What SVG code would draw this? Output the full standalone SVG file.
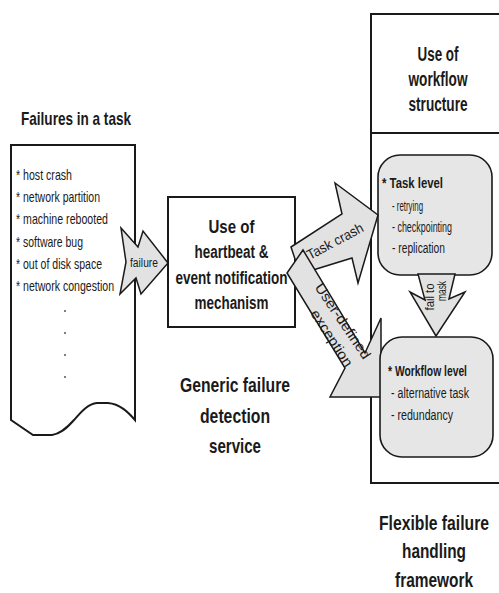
<svg xmlns="http://www.w3.org/2000/svg" width="499" height="593" viewBox="0 0 499 593">
<style>
.t{font-family:"Liberation Sans Narrow","Liberation Sans",Arial,sans-serif;fill:#1a1a1a}
.b{font-weight:bold}
.ln{fill:none;stroke:#1a1a1a;stroke-width:2}
.box{fill:#fff;stroke:#1a1a1a;stroke-width:2}
.gr{fill:#e2e2e2;stroke:#1a1a1a;stroke-width:1.5;stroke-linejoin:miter}
.rb{fill:#e6e6e6;stroke:#1a1a1a;stroke-width:1.6}
</style>
<rect width="499" height="593" fill="#fff"/>
<g id="container">
<path class="ln" d="M510,14 H371 V483 H510 M371,133 H510"/>
<g class="t b" font-size="20" text-anchor="middle">
<text x="438" y="61" textLength="41" lengthAdjust="spacingAndGlyphs">Use of</text>
<text x="438" y="86" textLength="59" lengthAdjust="spacingAndGlyphs">workflow</text>
<text x="438" y="111" textLength="59" lengthAdjust="spacingAndGlyphs">structure</text>
</g>
<g class="t b" font-size="21" text-anchor="middle">
<text x="434" y="530" textLength="110" lengthAdjust="spacingAndGlyphs">Flexible failure</text>
<text x="434" y="558" textLength="64" lengthAdjust="spacingAndGlyphs">handling</text>
<text x="434" y="587" textLength="78" lengthAdjust="spacingAndGlyphs">framework</text>
</g>
</g>
<g id="failures">
<text class="t b" x="21" y="125" font-size="19" textLength="110" lengthAdjust="spacingAndGlyphs">Failures in a task</text>
<path class="box" d="M11,145 H135 V420 C128,412 120,404 108,403 H97 C88,404 82,411 74,420 C66,429 60,434 52,435 H33 L11,420 Z"/>
<g class="t" font-size="15">
<text x="16" y="180" textLength="56" lengthAdjust="spacingAndGlyphs">* host crash</text>
<text x="16" y="202" textLength="84" lengthAdjust="spacingAndGlyphs">* network partition</text>
<text x="16" y="224" textLength="92" lengthAdjust="spacingAndGlyphs">* machine rebooted</text>
<text x="16" y="247" textLength="67" lengthAdjust="spacingAndGlyphs">* software bug</text>
<text x="16" y="269" textLength="86" lengthAdjust="spacingAndGlyphs">* out of disk space</text>
<text x="16" y="291" textLength="98" lengthAdjust="spacingAndGlyphs">* network congestion</text>
</g>
<g fill="#555"><circle cx="65" cy="311" r="1"/><circle cx="65" cy="333" r="1"/><circle cx="65" cy="355" r="1"/><circle cx="65" cy="377" r="1"/></g>
</g>
<g id="detector">
<rect class="box" x="168" y="197" width="127" height="130"/>
<g class="t b" font-size="18" text-anchor="middle">
<text x="231.5" y="233" textLength="46" lengthAdjust="spacingAndGlyphs">Use of</text>
<text x="231.5" y="258" textLength="74" lengthAdjust="spacingAndGlyphs">heartbeat &amp;</text>
<text x="231.5" y="284" textLength="112" lengthAdjust="spacingAndGlyphs">event notification</text>
<text x="231.5" y="309" textLength="74" lengthAdjust="spacingAndGlyphs">mechanism</text>
</g>
<g class="t b" font-size="21" text-anchor="middle">
<text x="235" y="392" textLength="110" lengthAdjust="spacingAndGlyphs">Generic failure</text>
<text x="235" y="423" textLength="70" lengthAdjust="spacingAndGlyphs">detection</text>
<text x="235" y="453" textLength="52" lengthAdjust="spacingAndGlyphs">service</text>
</g>
</g>
<g id="task-level">
<rect class="rb" x="378" y="155" width="114" height="120" rx="22"/>
<text class="t b" x="382" y="188" font-size="15" textLength="61" lengthAdjust="spacingAndGlyphs">* Task level</text>
<g class="t" font-size="14">
<text x="392" y="211" textLength="31" lengthAdjust="spacingAndGlyphs">- retrying</text>
<text x="392" y="232" textLength="60" lengthAdjust="spacingAndGlyphs">- checkpointing</text>
<text x="392" y="253" textLength="53" lengthAdjust="spacingAndGlyphs">- replication</text>
</g>
</g>
<g id="connectors">
<g id="failure-arrow">
<polygon class="gr" points="121,228 138,247 143,231 168,263 141,294 136,278 120,294 126,262"/>
<text class="t" x="144" y="263" font-size="12" text-anchor="middle" dominant-baseline="central" textLength="28" lengthAdjust="spacingAndGlyphs">failure</text>
</g>
<g id="task-crash-arrow">
<polygon class="gr" points="291,247 342,214 335,183 378,215 358,283 352,258 300,274"/>
<text class="t" x="335" y="241" font-size="14" text-anchor="middle" dominant-baseline="central" transform="rotate(-28 335 241)" textLength="62" lengthAdjust="spacingAndGlyphs">Task crash</text>
</g>
<g id="fail-to-mask-arrow">
<polygon class="gr" points="418,274 455,274 449,299 465,292 436,336 410,292 425,300"/>
<text class="t" x="430" y="297" font-size="12" text-anchor="middle" dominant-baseline="central" transform="rotate(-90 430 297)" textLength="27" lengthAdjust="spacingAndGlyphs">fail to</text>
<text class="t" x="442" y="291" font-size="12" text-anchor="middle" dominant-baseline="central" transform="rotate(-90 442 291)" textLength="20" lengthAdjust="spacingAndGlyphs">mask</text>
</g>
<g id="exception-arrow">
<polygon class="gr" points="303,250 365,353 381,318 381,397 330,397 345,368 287,273"/>
<text class="t" x="343" y="321" font-size="14" text-anchor="middle" dominant-baseline="central" transform="rotate(56 343 321)" textLength="88" lengthAdjust="spacingAndGlyphs">User-defined</text>
<text class="t" x="332" y="338" font-size="14" text-anchor="middle" dominant-baseline="central" transform="rotate(57 332 338)" textLength="65" lengthAdjust="spacingAndGlyphs">exception</text>
</g>
</g>
<g id="workflow-level">
<rect class="rb" x="380" y="337" width="113" height="120" rx="22"/>
<text class="t b" x="388" y="376" font-size="15" textLength="79" lengthAdjust="spacingAndGlyphs">* Workflow level</text>
<g class="t" font-size="14">
<text x="391" y="398" textLength="78" lengthAdjust="spacingAndGlyphs">- alternative task</text>
<text x="391" y="420" textLength="62" lengthAdjust="spacingAndGlyphs">- redundancy</text>
</g>
</g>
</svg>
